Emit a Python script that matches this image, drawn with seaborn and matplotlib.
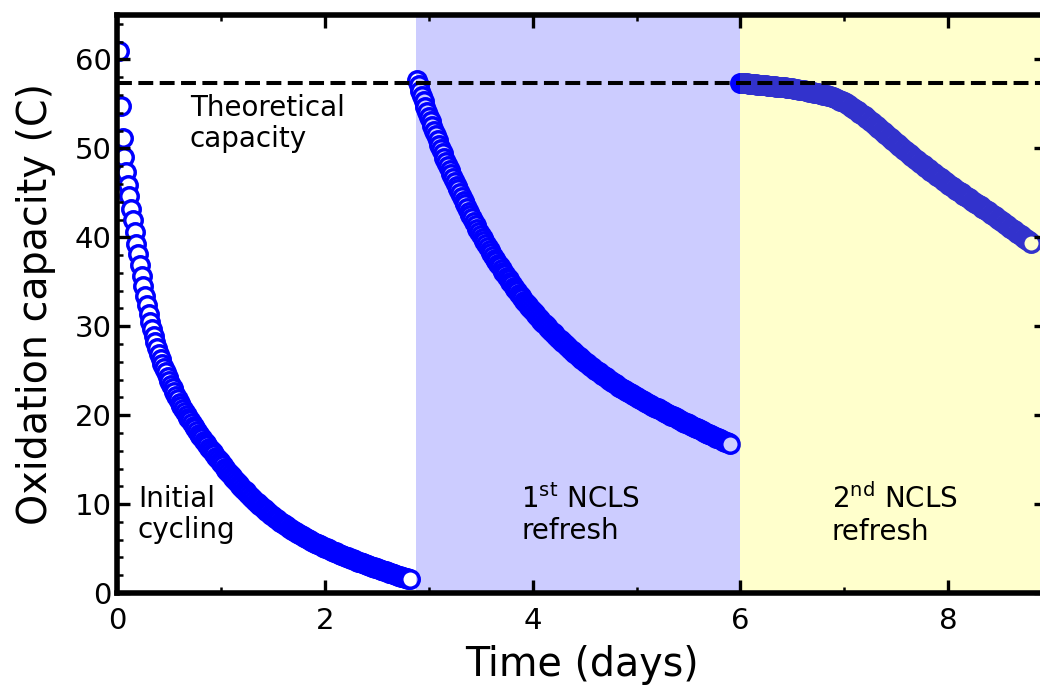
import numpy as np
import pandas as pd
import matplotlib
matplotlib.use("Agg")
import matplotlib.pyplot as plt
from matplotlib.ticker import MultipleLocator
import seaborn as sns

# One oxidation-capacity reading (C) per 24-minute cycle
SAMPLE_INTERVAL = 24 / (24 * 60)  # days

initial_start = 0.02
initial_capacity = [
    61.0, 54.8, 51.2, 49.0, 47.4, 45.9, 44.6, 43.2, 41.9, 40.6, 39.3, 38.1,
    36.9, 35.7, 34.5, 33.4, 32.4, 31.4, 30.5, 29.7, 28.9, 28.2, 27.5, 26.9,
    26.3, 25.8, 25.3, 24.8, 24.3, 23.85, 23.4, 23.0, 22.6, 22.2, 21.8, 21.4,
    21.05, 20.7, 20.35, 20.0, 19.7, 19.4, 19.1, 18.8, 18.5, 18.2, 17.9, 17.65,
    17.4, 17.1, 16.85, 16.6, 16.35, 16.1, 15.85, 15.6, 15.35, 15.1, 14.85, 14.6,
    14.35, 14.10, 13.85, 13.61, 13.37, 13.14, 12.91, 12.69, 12.47, 12.25,
    12.04, 11.83, 11.62, 11.42, 11.22, 11.03, 10.83, 10.65, 10.46, 10.28,
    10.10, 9.92, 9.75, 9.58, 9.41, 9.25, 9.09, 8.93, 8.77, 8.62,
    8.47, 8.32, 8.18, 8.04, 7.90, 7.76, 7.62, 7.49, 7.36, 7.23,
    7.11, 6.98, 6.86, 6.74, 6.63, 6.51, 6.40, 6.29, 6.18, 6.07,
    5.97, 5.86, 5.76, 5.66, 5.56, 5.47, 5.37, 5.28, 5.19, 5.10,
    5.01, 4.92, 4.83, 4.74, 4.66, 4.57, 4.49, 4.40, 4.32, 4.24,
    4.16, 4.08, 4.00, 3.92, 3.84, 3.77, 3.69, 3.62, 3.54, 3.47,
    3.40, 3.32, 3.25, 3.18, 3.11, 3.04, 2.97, 2.90, 2.83, 2.76,
    2.69, 2.62, 2.55, 2.48, 2.42, 2.35, 2.28, 2.22, 2.15, 2.09,
    2.02, 1.96, 1.89, 1.83, 1.77, 1.71, 1.65, 1.59, 1.53,
]

refresh1_start = 2.885
refresh1_capacity = [
    57.7,
    57.08, 56.47, 55.87, 55.28, 54.70, 54.13, 53.57, 53.03, 52.5,
    51.97, 51.45, 50.94, 50.43, 49.93, 49.44, 48.96, 48.48, 48.0,
    47.55, 47.11, 46.67, 46.24, 45.81, 45.38, 44.95, 44.52, 44.1,
    43.69, 43.29, 42.9, 42.51, 42.12, 41.74, 41.36, 40.98, 40.6,
    40.25, 39.91, 39.57, 39.24, 38.91, 38.58, 38.25, 37.92, 37.6,
    37.3, 37.01, 36.72, 36.43, 36.14, 35.85, 35.56, 35.28, 35.0,
    34.73, 34.46, 34.19, 33.92, 33.65, 33.39, 33.13, 32.86, 32.6,
    32.37, 32.15, 31.93, 31.71, 31.49, 31.27, 31.05, 30.83, 30.6,
    30.4, 30.2, 30.0, 29.8, 29.6, 29.4, 29.2, 29.0, 28.8,
    28.62, 28.44, 28.27, 28.09, 27.91, 27.73, 27.55, 27.38, 27.2,
    27.03, 26.87, 26.7, 26.53, 26.37, 26.2, 26.03, 25.87, 25.7,
    25.56, 25.41, 25.27, 25.12, 24.98, 24.83, 24.69, 24.54, 24.4,
    24.27, 24.13, 24.0, 23.87, 23.73, 23.6, 23.47, 23.33, 23.2,
    23.08, 22.96, 22.83, 22.71, 22.59, 22.47, 22.34, 22.22, 22.1,
    21.99, 21.89, 21.78, 21.68, 21.57, 21.47, 21.36, 21.26, 21.15,
    21.05, 20.95, 20.85, 20.75, 20.65, 20.55, 20.45, 20.35, 20.25,
    20.15, 20.05, 19.95, 19.85, 19.75, 19.65, 19.55, 19.45, 19.35,
    19.26, 19.16, 19.07, 18.97, 18.88, 18.78, 18.69, 18.59, 18.5,
    18.41, 18.31, 18.22, 18.12, 18.03, 17.93, 17.84, 17.74, 17.65,
    17.56, 17.47, 17.38, 17.29, 17.21, 17.12, 17.03, 16.94, 16.85,
    16.76,
]

refresh2_start = 5.995
refresh2_capacity = [
    57.4,
    57.38, 57.35, 57.33, 57.3, 57.28, 57.25,
    57.23, 57.22, 57.2, 57.18, 57.17, 57.15,
    57.13, 57.1, 57.08, 57.05, 57.03, 57.0,
    56.98, 56.97, 56.95, 56.93, 56.92, 56.9,
    56.88, 56.85, 56.83, 56.8, 56.78, 56.75,
    56.72, 56.68, 56.65, 56.62, 56.58, 56.55,
    56.51, 56.47, 56.43, 56.38, 56.34, 56.3,
    56.26, 56.22, 56.18, 56.13, 56.09, 56.05,
    56.0, 55.95, 55.9, 55.85, 55.8, 55.75,
    55.66, 55.57, 55.48, 55.38, 55.29, 55.2,
    55.08, 54.95, 54.83, 54.7, 54.58, 54.45,
    54.31, 54.17, 54.03, 53.88, 53.74, 53.6,
    53.44, 53.28, 53.12, 52.97, 52.81, 52.65,
    52.48, 52.32, 52.15, 51.98, 51.82, 51.65,
    51.48, 51.32, 51.15, 50.98, 50.82, 50.65,
    50.48, 50.32, 50.15, 49.98, 49.82, 49.65,
    49.49, 49.33, 49.18, 49.02, 48.86, 48.7,
    48.55, 48.4, 48.25, 48.1, 47.95, 47.8,
    47.65, 47.5, 47.35, 47.2, 47.05, 46.9,
    46.76, 46.62, 46.48, 46.33, 46.19, 46.05,
    45.91, 45.77, 45.63, 45.48, 45.34, 45.2,
    45.07, 44.93, 44.8, 44.67, 44.53, 44.4,
    44.27, 44.13, 44.0, 43.87, 43.73, 43.6,
    43.47, 43.33, 43.2, 43.07, 42.93, 42.8,
    42.66, 42.52, 42.38, 42.23, 42.09, 41.95,
    41.81, 41.67, 41.53, 41.38, 41.24, 41.1,
    40.96, 40.82, 40.68, 40.53, 40.39, 40.25,
    40.11, 39.97, 39.83, 39.68, 39.54, 39.4,
]

theoretical_capacity = 57.3
refresh1_window = (2.88, 6.0)
refresh2_window = (6.0, 9.0)

segments = [
    ("Initial cycling", initial_start, initial_capacity),
    ("1st NCLS refresh", refresh1_start, refresh1_capacity),
    ("2nd NCLS refresh", refresh2_start, refresh2_capacity),
]

frames = []
for name, start, cap in segments:
    t = start + SAMPLE_INTERVAL * np.arange(len(cap))
    frames.append(pd.DataFrame({"time": t, "capacity": cap, "stage": name}))
data = pd.concat(frames, ignore_index=True)

sns.set_theme(style="white")
plt.rcParams["font.family"] = ["DejaVu Sans"]
plt.rcParams["mathtext.fontset"] = "dejavusans"
plt.rcParams["text.color"] = "black"
plt.rcParams["axes.labelcolor"] = "black"

fig = plt.figure(figsize=(10.4, 6.85), dpi=100)
ax = fig.add_axes([117 / 1040, 92 / 685, 930 / 1040, 578 / 685])

for name, _, _ in segments:
    sub = data[data["stage"] == name]
    sns.scatterplot(data=sub, x="time", y="capacity", ax=ax, marker="o",
                    s=158, color="blue", linewidth=2.5, legend=False, zorder=2)
    coll = ax.collections[-1]
    coll.set_facecolor("white")
    coll.set_edgecolor("blue")

# translucent washes over the two refresh periods
ax.axvspan(*refresh1_window, color="blue", alpha=0.2, lw=0, zorder=2.6)
ax.axvspan(*refresh2_window, color="yellow", alpha=0.2, lw=0, zorder=2.6)
ax.axhline(theoretical_capacity, color="black", ls="--", lw=2.9, zorder=4)

ax.set_xlim(0, 8.95)
ax.set_ylim(0, 65)
ax.xaxis.set_major_locator(MultipleLocator(2))
ax.xaxis.set_minor_locator(MultipleLocator(1))
ax.yaxis.set_major_locator(MultipleLocator(10))
ax.yaxis.set_minor_locator(MultipleLocator(2))

ax.tick_params(which="both", direction="in", top=True, right=True,
               bottom=True, left=True, colors="black")
ax.tick_params(which="major", length=9.5, width=2.4, labelsize=21)
ax.tick_params(axis="x", which="major", pad=10)
ax.tick_params(axis="y", which="major", pad=4)
ax.tick_params(which="minor", length=4, width=1.8)
for sp in ax.spines.values():
    sp.set_linewidth(4)
    sp.set_color("black")
    sp.set_zorder(5)
ax.xaxis.set_zorder(5)
ax.yaxis.set_zorder(5)

ax.set_xlabel("Time (days)", fontsize=28.5, labelpad=7)
ax.set_ylabel("Oxidation capacity (C)", fontsize=28.5, labelpad=13)

txt = dict(fontsize=20, color="black", ha="left", va="center", zorder=6,
           linespacing=1.15)
ax.text(0.7, 52.8, "Theoretical\ncapacity", **txt)
ax.text(0.2, 8.8, "Initial\ncycling", **txt)
ax.text(3.89, 8.8, "1$^{\\mathrm{st}}$ NCLS\nrefresh", **txt)
ax.text(6.88, 8.8, "2$^{\\mathrm{nd}}$ NCLS\nrefresh", **txt)

fig.savefig("out.png", dpi=100)
